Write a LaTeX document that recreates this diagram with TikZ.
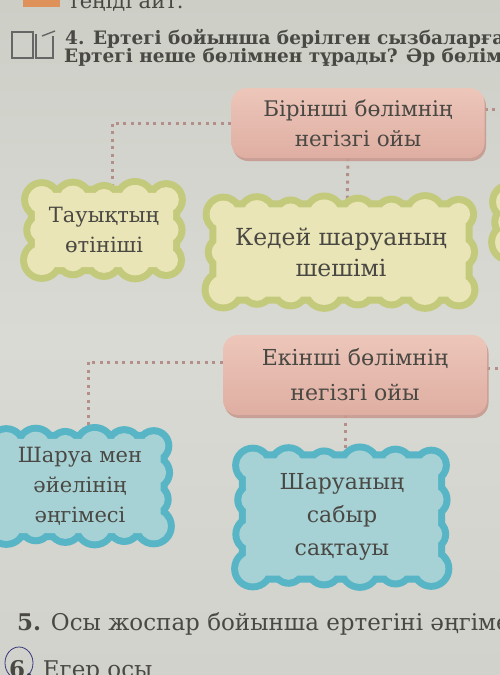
\documentclass[tikz,border=0pt]{standalone}
\usepackage{fontspec}
\setmainfont{DejaVu Serif}
\usetikzlibrary{calc,shadows}
\definecolor{bgT}{HTML}{CDCFC7}
\definecolor{bgM}{HTML}{DADAD4}
\definecolor{bgB}{HTML}{D2D2CC}
\definecolor{inkc}{HTML}{4A4843}
\definecolor{pinkT}{HTML}{EDC6BA}
\definecolor{pinkB}{HTML}{DFAEA2}
\definecolor{pinkS}{HTML}{C79A90}
\definecolor{greenB}{HTML}{C4CA7C}
\definecolor{greenF}{HTML}{E9E5B6}
\definecolor{blueB}{HTML}{58B5C5}
\definecolor{blueF}{HTML}{A6D2D6}
\definecolor{dotc}{HTML}{B48F89}
\definecolor{orangec}{HTML}{DE9158}
\pgfdeclarelayer{back}
\pgfdeclarelayer{mid}
\pgfsetlayers{back,mid,main}
% puffy cloud behind a named node: node, border colour, fill colour, puffs across, puffs down
\newcommand\puffcloud[5]{%
  \begin{pgfonlayer}{mid}
  \foreach \rr/\ee/\cc in {20/14/#2,13/7/#3}{%
    \fill[fill=\cc, rounded corners=8pt] ([shift={(-\ee pt,-\ee pt)}]#1.south west) rectangle ([shift={(\ee pt,\ee pt)}]#1.north east);
    \foreach \i in {0,...,#4}{%
      \pgfmathsetmacro\dra{2.2*sin(\i*133+17)}
      \pgfmathsetmacro\drb{2.2*cos(\i*111+40)}
      \fill[fill=\cc] ($(#1.north west)!{\i/#4}!(#1.north east)$) circle ({\rr pt + \dra pt});
      \fill[fill=\cc] ($(#1.south west)!{\i/#4}!(#1.south east)$) circle ({\rr pt + \drb pt});
    }
    \foreach \j in {1,...,#5}{%
      \pgfmathsetmacro\drc{2.2*sin(\j*151+70)}
      \pgfmathsetmacro\drd{2.2*cos(\j*97+10)}
      \fill[fill=\cc] ($(#1.north west)!{\j/#5}!(#1.south west)$) circle ({\rr pt + \drc pt});
      \fill[fill=\cc] ($(#1.north east)!{\j/#5}!(#1.south east)$) circle ({\rr pt + \drd pt});
    }
  }
  \end{pgfonlayer}}
\begin{document}
\begin{tikzpicture}[x=1pt,y=-1pt,
  pinkbox/.style={rectangle, rounded corners=15pt, top color=pinkT, bottom color=pinkB,
    draw=none, text=inkc, align=center, inner sep=0pt,
    drop shadow={shadow xshift=1.5pt, shadow yshift=-3pt, fill=pinkS, opacity=0.9}},
  cloudtext/.style={rectangle, draw=none, align=center, text=inkc, inner sep=0pt,
    font=\fontsize{21}{30}\selectfont},
  dotline/.style={draw=dotc, line width=3pt, dash pattern=on 3pt off 4.5pt},
  txt/.style={anchor=base west, inner sep=0pt, text=inkc}
]
\useasboundingbox (0,0) rectangle (500,675);
\clip (0,0) rectangle (500,675);
\begin{pgfonlayer}{back}
\shade[top color=bgT, bottom color=bgB, middle color=bgM] (0,0) rectangle (500,675);
\end{pgfonlayer}

% top strip
\fill[orangec] (23,-2) rectangle (60,7);
\node[txt, font=\fontsize{21}{22}\selectfont] (top) at (68,8) {теңіді айт.};

% exercise icon
\draw[gray!80!black, line width=1.2pt] (12,32) rectangle (33,58);
\draw[gray!80!black, line width=1.2pt] (36,34) -- (36,58) -- (53,58) -- (53,36);
\draw[gray!80!black, line width=1.4pt] (42,36) -- (55,31);

% header
\node[txt, font=\bfseries\fontsize{18.5}{20}\selectfont] (q4a) at (65,44) {4. Ертегі бойынша берілген сызбаларға};
\node[txt, font=\bfseries\fontsize{18.5}{20}\selectfont] (q4b) at (64,62) {Ертегі неше бөлімнен тұрады? Әр бөлім};

% boxes
\node[pinkbox, minimum width=253pt, minimum height=70pt, font=\fontsize{21.5}{30}\selectfont] (box1) at (358,123) {Бірінші бөлімнің\\негізгі ойы};
\node[pinkbox, minimum width=264pt, minimum height=80pt, font=\fontsize{22}{35}\selectfont] (box2) at (355,375) {Екінші бөлімнің\\негізгі ойы};

% clouds (text nodes; puffs drawn behind)
\node[cloudtext, minimum width=124pt, minimum height=60pt] (g1) at (104,230) {Тауықтың\\өтініші};
\node[cloudtext, minimum width=235pt, minimum height=75pt, font=\fontsize{23.5}{31}\selectfont] (g2) at (341,252) {Кедей шаруаның\\шешімі};
\node[cloudtext, minimum width=20pt, minimum height=40pt] (g3) at (520,222) {};
\node[cloudtext, minimum width=147pt, minimum height=80pt] (b1) at (80,486) {Шаруа мен\\әйелінің\\әңгімесі};
\node[cloudtext, minimum width=178pt, minimum height=103pt, font=\fontsize{22}{33}\selectfont] (b2) at (342,517) {Шаруаның\\сабыр\\сақтауы};
\puffcloud{g1}{greenB}{greenF}{4}{2}
\puffcloud{g2}{greenB}{greenF}{7}{2}
\puffcloud{g3}{greenB}{greenF}{1}{2}
\puffcloud{b1}{blueB}{blueF}{5}{3}
\puffcloud{b2}{blueB}{blueF}{5}{3}

\coordinate (r1) at (505,109);
\coordinate (r2) at (498,368);

\begin{pgfonlayer}{back}
\draw[dotline] (box1.west) -| ([xshift=8pt]g1.north);
\draw[dotline] ([xshift=-10pt]box1.south) -- ([xshift=6pt]g2.north);
\draw[dotline] ([yshift=14pt]box1.east) -- (r1);
\draw[dotline] ([yshift=13pt]box2.west) -| ([xshift=8pt]b1.north);
\draw[dotline] ([xshift=-10pt]box2.south) -- ([xshift=3pt]b2.north);
\draw[dotline] ([yshift=7pt]box2.east) -- (r2);
\end{pgfonlayer}

% bottom
\node[txt, font=\fontsize{23}{26}\selectfont] (q5) at (17,630) {\textbf{5.} Осы жоспар бойынша ертегіні әңгіме};
\node[txt, font=\fontsize{23}{26}\selectfont] (q6) at (9,677) {\textbf{6.} Егер осы};
\draw[gray!60!blue!70!black, line width=0.8pt] (19,663) ellipse (14 and 16);
\end{tikzpicture}
\end{document}
